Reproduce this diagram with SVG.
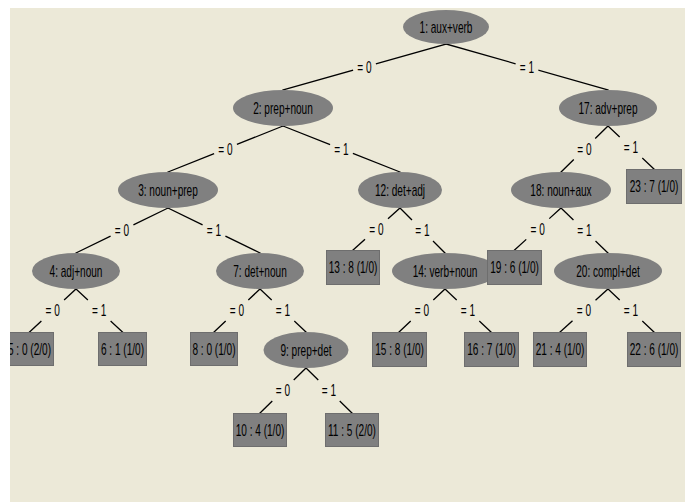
<svg xmlns="http://www.w3.org/2000/svg" width="685" height="502" viewBox="0 0 685 502">
<defs>
<clipPath id="pane"><rect x="10" y="8" width="675" height="494"/></clipPath>
<style>
.bg{fill:#ECE9D8}
.e{fill:#808080}
.b{fill:#808080;stroke:#6E6E6E;stroke-width:1}
.t{font-family:"Liberation Sans",Arial,sans-serif;font-size:16px;fill:#000;text-anchor:middle}
.c line{stroke:#000;stroke-width:1.3;stroke-linecap:square}
</style>
</defs>
<rect x="0" y="0" width="685" height="502" fill="#FFFFFF"/>
<rect class="bg" x="10" y="8" width="675" height="494"/>
<g clip-path="url(#pane)">
<g id="connectors" class="c">
<line x1="446" y1="44" x2="376.5" y2="63.6"/><line x1="352.5" y1="70.4" x2="283" y2="90"/>
<line x1="446" y1="44" x2="515" y2="63.6"/><line x1="539" y1="70.4" x2="608" y2="90"/>
<line x1="283" y1="126" x2="237.5" y2="144.2"/><line x1="213.5" y1="153.8" x2="168" y2="172"/>
<line x1="283" y1="126" x2="329.5" y2="144.3"/><line x1="353.5" y1="153.7" x2="400" y2="172"/>
<line x1="608" y1="126" x2="595.7" y2="138"/><line x1="573.3" y1="160" x2="561" y2="172"/>
<line x1="608" y1="126" x2="619.2" y2="136.5"/><line x1="642.8" y1="158.5" x2="654" y2="169"/>
<line x1="168" y1="208" x2="134" y2="224.6"/><line x1="110" y1="236.4" x2="76" y2="253"/>
<line x1="168" y1="208" x2="202" y2="224.6"/><line x1="226" y1="236.4" x2="260" y2="253"/>
<line x1="400" y1="208" x2="388.5" y2="218.3"/><line x1="364.5" y1="239.7" x2="353" y2="250"/>
<line x1="400" y1="208" x2="411.5" y2="219.5"/><line x1="433.5" y1="241.5" x2="445" y2="253"/>
<line x1="561" y1="208" x2="549.75" y2="218.2"/><line x1="525.75" y1="239.8" x2="514.5" y2="250"/>
<line x1="561" y1="208" x2="573" y2="219.5"/><line x1="596" y1="241.5" x2="608" y2="253"/>
<line x1="76" y1="289" x2="64.6" y2="299.5"/><line x1="40.9" y1="321.5" x2="29.5" y2="332"/>
<line x1="76" y1="289" x2="87.4" y2="299.5"/><line x1="111.1" y1="321.5" x2="122.5" y2="332"/>
<line x1="260" y1="289" x2="248.8" y2="299.5"/><line x1="225.2" y1="321.5" x2="214" y2="332"/>
<line x1="260" y1="289" x2="271.2" y2="299.5"/><line x1="294.8" y1="321.5" x2="306" y2="332"/>
<line x1="445" y1="289" x2="433.8" y2="299.5"/><line x1="410.2" y1="321.5" x2="399" y2="332"/>
<line x1="445" y1="289" x2="456.2" y2="299.5"/><line x1="479.8" y1="321.5" x2="491" y2="332"/>
<line x1="608" y1="289" x2="596" y2="299.75"/><line x1="572" y1="321.25" x2="560" y2="332"/>
<line x1="608" y1="289" x2="619.2" y2="299.5"/><line x1="642.8" y1="321.5" x2="654" y2="332"/>
<line x1="306" y1="368" x2="294.2" y2="379.5"/><line x1="271.8" y1="401.5" x2="260" y2="413"/>
<line x1="306" y1="368" x2="317.8" y2="379.5"/><line x1="340.2" y1="401.5" x2="352" y2="413"/>
</g>
<g id="edge-labels">
<text class="t" transform="translate(364.5,72.5) scale(0.63,1)">= 0</text>
<text class="t" transform="translate(527,72.5) scale(0.63,1)">= 1</text>
<text class="t" transform="translate(225.5,154.5) scale(0.63,1)">= 0</text>
<text class="t" transform="translate(341.5,154.5) scale(0.63,1)">= 1</text>
<text class="t" transform="translate(584.5,154.5) scale(0.63,1)">= 0</text>
<text class="t" transform="translate(631,153) scale(0.63,1)">= 1</text>
<text class="t" transform="translate(122,236) scale(0.63,1)">= 0</text>
<text class="t" transform="translate(214,236) scale(0.63,1)">= 1</text>
<text class="t" transform="translate(376.5,234.5) scale(0.63,1)">= 0</text>
<text class="t" transform="translate(422.5,236) scale(0.63,1)">= 1</text>
<text class="t" transform="translate(537.75,234.5) scale(0.63,1)">= 0</text>
<text class="t" transform="translate(584.5,236) scale(0.63,1)">= 1</text>
<text class="t" transform="translate(52.75,316) scale(0.63,1)">= 0</text>
<text class="t" transform="translate(99.25,316) scale(0.63,1)">= 1</text>
<text class="t" transform="translate(237,316) scale(0.63,1)">= 0</text>
<text class="t" transform="translate(283,316) scale(0.63,1)">= 1</text>
<text class="t" transform="translate(422,316) scale(0.63,1)">= 0</text>
<text class="t" transform="translate(468,316) scale(0.63,1)">= 1</text>
<text class="t" transform="translate(584,316) scale(0.63,1)">= 0</text>
<text class="t" transform="translate(631,316) scale(0.63,1)">= 1</text>
<text class="t" transform="translate(283,396) scale(0.63,1)">= 0</text>
<text class="t" transform="translate(329,396) scale(0.63,1)">= 1</text>
</g>
<g id="node1"><ellipse class="e" cx="446" cy="27" rx="43" ry="17"/><text class="t" transform="translate(446,32.5) scale(0.63,1)">1: aux+verb</text></g>
<g id="node2"><ellipse class="e" cx="283" cy="108" rx="50" ry="18"/><text class="t" transform="translate(283,113.5) scale(0.63,1)">2: prep+noun</text></g>
<g id="node17"><ellipse class="e" cx="608" cy="108" rx="49" ry="18"/><text class="t" transform="translate(608,113.5) scale(0.63,1)">17: adv+prep</text></g>
<g id="node3"><ellipse class="e" cx="168" cy="190" rx="50" ry="18"/><text class="t" transform="translate(168,195.5) scale(0.63,1)">3: noun+prep</text></g>
<g id="node12"><ellipse class="e" cx="400" cy="190" rx="42" ry="18"/><text class="t" transform="translate(400,195.5) scale(0.63,1)">12: det+adj</text></g>
<g id="node18"><ellipse class="e" cx="561" cy="190" rx="50" ry="18"/><text class="t" transform="translate(561,195.5) scale(0.63,1)">18: noun+aux</text></g>
<g id="node23"><rect class="b" x="626.5" y="169.5" width="55" height="34"/><text class="t" transform="translate(654,192) scale(0.63,1)">23 : 7 (1/0)</text></g>
<g id="node4"><ellipse class="e" cx="76" cy="271" rx="44" ry="18"/><text class="t" transform="translate(76,276.5) scale(0.63,1)">4: adj+noun</text></g>
<g id="node7"><ellipse class="e" cx="260" cy="271" rx="44" ry="18"/><text class="t" transform="translate(260,276.5) scale(0.63,1)">7: det+noun</text></g>
<g id="node13"><rect class="b" x="326.5" y="250.5" width="53" height="34"/><text class="t" transform="translate(353,273) scale(0.63,1)">13 : 8 (1/0)</text></g>
<g id="node14"><ellipse class="e" cx="445" cy="271" rx="53" ry="18"/><text class="t" transform="translate(445,276.5) scale(0.63,1)">14: verb+noun</text></g>
<g id="node19"><rect class="b" x="487.5" y="250.5" width="54" height="34"/><text class="t" transform="translate(514.5,273) scale(0.63,1)">19 : 6 (1/0)</text></g>
<g id="node20"><ellipse class="e" cx="608" cy="271" rx="54" ry="18"/><text class="t" transform="translate(608,276.5) scale(0.63,1)">20: compl+det</text></g>
<g id="node5"><rect class="b" x="5.5" y="332.5" width="48" height="33"/><text class="t" transform="translate(29.5,354.5) scale(0.63,1)">5 : 0 (2/0)</text></g>
<g id="node6"><rect class="b" x="98.5" y="332.5" width="48" height="33"/><text class="t" transform="translate(122.5,354.5) scale(0.63,1)">6 : 1 (1/0)</text></g>
<g id="node8"><rect class="b" x="190.5" y="332.5" width="47" height="33"/><text class="t" transform="translate(214,354.5) scale(0.63,1)">8 : 0 (1/0)</text></g>
<g id="node9"><ellipse class="e" cx="306" cy="350" rx="42.5" ry="18"/><text class="t" transform="translate(306,355.5) scale(0.63,1)">9: prep+det</text></g>
<g id="node15"><rect class="b" x="372.5" y="332.5" width="54" height="34"/><text class="t" transform="translate(399.5,355) scale(0.63,1)">15 : 8 (1/0)</text></g>
<g id="node16"><rect class="b" x="464.5" y="332.5" width="54" height="34"/><text class="t" transform="translate(491.5,355) scale(0.63,1)">16 : 7 (1/0)</text></g>
<g id="node21"><rect class="b" x="533.5" y="332.5" width="53" height="34"/><text class="t" transform="translate(560,355) scale(0.63,1)">21 : 4 (1/0)</text></g>
<g id="node22"><rect class="b" x="627.5" y="332.5" width="53" height="34"/><text class="t" transform="translate(654,355) scale(0.63,1)">22 : 6 (1/0)</text></g>
<g id="node10"><rect class="b" x="233.5" y="413.5" width="53" height="33"/><text class="t" transform="translate(260,435.5) scale(0.63,1)">10 : 4 (1/0)</text></g>
<g id="node11"><rect class="b" x="325.5" y="413.5" width="53" height="33"/><text class="t" transform="translate(352,435.5) scale(0.63,1)">11 : 5 (2/0)</text></g>
</g>
</svg>
